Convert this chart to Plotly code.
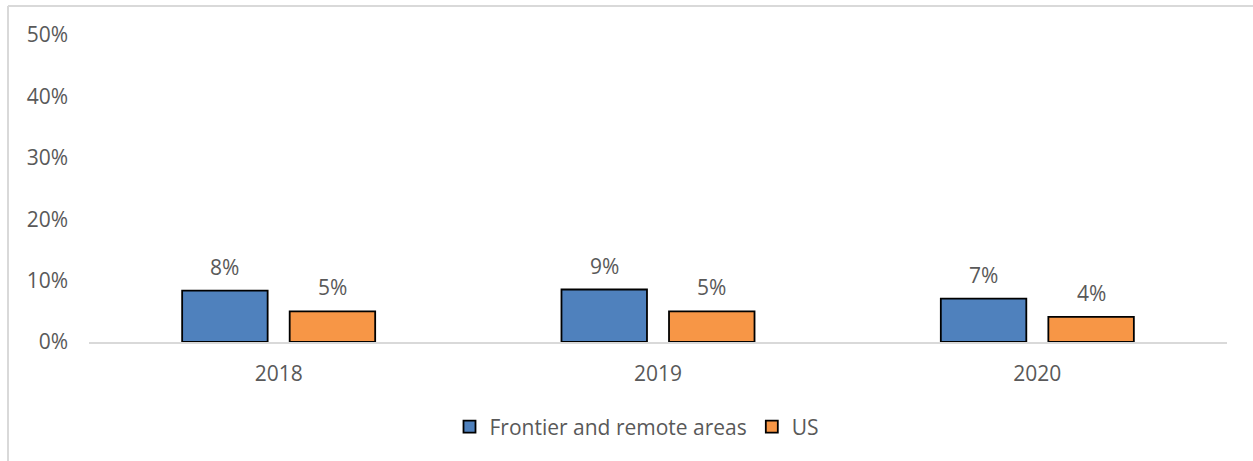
import plotly.graph_objects as go

# Share of population by year
years = ["2018", "2019", "2020"]
frontier_remote = [0.0836, 0.0855, 0.0705]
us_total = [0.050, 0.050, 0.041]
series_names = ["Frontier and remote areas", "US"]
y_ticks = [0, 0.1, 0.2, 0.3, 0.4, 0.5]

BLUE = "#4F81BD"
ORANGE = "#F79646"
TEXT = "#595959"
GRID = "#D9D9D9"
FONT = "Open Sans"
FS = 21

W, H = 1253, 461
ML, MR, MT, MB = 89, 26, 35, 119
plot_w = W - ML - MR
plot_h = H - MT - MB

fig = go.Figure()
for name, vals, color in [(series_names[0], frontier_remote, BLUE),
                          (series_names[1], us_total, ORANGE)]:
    fig.add_trace(go.Bar(
        x=years, y=vals, name=name,
        marker=dict(color=color, line=dict(color="#000000", width=1.8)),
        hoverinfo="skip",
    ))

# value labels above each bar (category index on the x axis)
bargap, groupgap = 0.433, 0.205
slot_px = plot_w / len(years) * (1 - bargap) / 2
for k, vals in enumerate([frontier_remote, us_total]):
    shift = (k - 0.5) * slot_px
    for i, v in enumerate(vals):
        fig.add_annotation(
            x=i, y=v, xref="x", yref="y",
            text=f"{round(v * 100):.0f}%", showarrow=False,
            xshift=shift, yshift=24, yanchor="middle",
            font=dict(family=FONT, size=FS, color=TEXT),
        )

# chart-area frame (left and top edges)
px_x = lambda px: (px - ML) / plot_w
px_y = lambda py: (H - MB - py) / plot_h
fig.add_shape(type="line", xref="paper", yref="paper",
              x0=px_x(8), x1=px_x(8), y0=px_y(6), y1=px_y(470),
              line=dict(color=GRID, width=2))
fig.add_shape(type="line", xref="paper", yref="paper",
              x0=px_x(8), x1=px_x(1260), y0=px_y(6), y1=px_y(6),
              line=dict(color=GRID, width=2))

fig.update_layout(
    width=W, height=H,
    margin=dict(l=ML, r=MR, t=MT, b=MB, pad=0),
    paper_bgcolor="white", plot_bgcolor="white",
    barmode="group", bargap=bargap, bargroupgap=groupgap,
    font=dict(family=FONT, size=FS, color=TEXT),
    showlegend=True,
    legend=dict(orientation="h", x=px_x(637), xanchor="center",
                y=px_y(427), yanchor="middle",
                font=dict(family=FONT, size=FS, color=TEXT),
                itemwidth=30, bgcolor="rgba(0,0,0,0)"),
    xaxis=dict(type="category", range=[-0.5, len(years) - 0.5],
               autorange=False,
               showline=True, linecolor=GRID, linewidth=2,
               showgrid=False, ticks="", ticklabelstandoff=12,
               tickfont=dict(family=FONT, size=FS, color=TEXT)),
    yaxis=dict(range=[0, 0.5], autorange=False, tickvals=y_ticks,
               tickformat=".0%",
               showgrid=False, zeroline=False, showline=False,
               ticks="", ticklabelstandoff=20,
               tickfont=dict(family=FONT, size=FS, color=TEXT)),
)

fig.write_html("out.html")
